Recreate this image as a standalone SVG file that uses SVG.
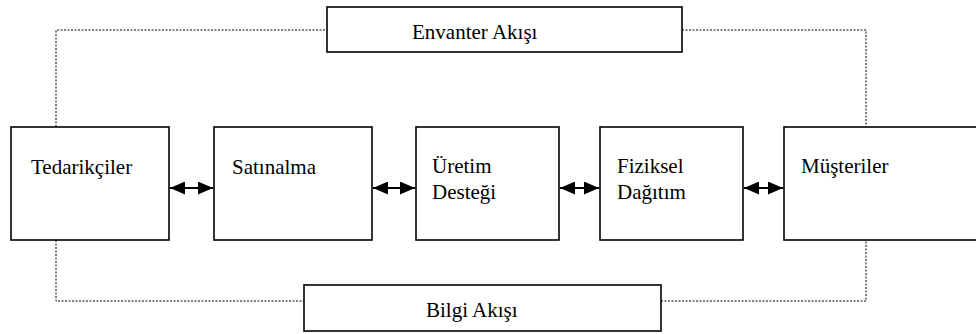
<svg xmlns="http://www.w3.org/2000/svg" width="976" height="334" viewBox="0 0 976 334">
<defs>
<style>
.box{fill:#fff;stroke:#000;stroke-width:1.6}
.t{font-family:"Liberation Serif","Times New Roman",Tinos,"DejaVu Serif",serif;font-size:21px;fill:#000}
.dot{fill:none;stroke:#000;stroke-width:1;stroke-dasharray:2,1.5}
.arr{stroke:#000;stroke-width:2;marker-start:url(#ah);marker-end:url(#ah)}
</style>
<marker id="ah" viewBox="0 0 15 13" refX="15" refY="6.5" markerWidth="15" markerHeight="13" markerUnits="userSpaceOnUse" preserveAspectRatio="none" orient="auto-start-reverse">
<path d="M0,0 L15,6.5 L0,13 Z" fill="#000"/>
</marker>
</defs>
<g id="connectors">
<path class="dot" d="M56,127 V30 H327"/>
<path class="dot" d="M682,30 H866 V127"/>
<path class="dot" d="M56,240 V301 H304"/>
<path class="dot" d="M661,301 H866 V240"/>
<line class="arr" x1="170" y1="188" x2="213" y2="188"/>
<line class="arr" x1="373" y1="188" x2="415" y2="188"/>
<line class="arr" x1="560" y1="188" x2="599" y2="188"/>
<line class="arr" x1="744" y1="188" x2="783" y2="188"/>
</g>
<g id="envanter">
<rect class="box" x="327" y="7" width="355" height="45"/>
<text class="t" x="412" y="39" font-family="Liberation Serif, serif">Envanter Akışı</text>
</g>
<g id="tedarikciler">
<rect class="box" x="11" y="127" width="158" height="113"/>
<text class="t" x="31" y="174" font-family="Liberation Serif, serif">Tedarikçiler</text>
</g>
<g id="satinalma">
<rect class="box" x="214" y="127" width="158" height="113"/>
<text class="t" x="232" y="174" font-family="Liberation Serif, serif">Satınalma</text>
</g>
<g id="uretim">
<rect class="box" x="416" y="127" width="143" height="113"/>
<text class="t" x="432" y="173" font-family="Liberation Serif, serif">Üretim</text>
<text class="t" x="432" y="199" font-family="Liberation Serif, serif">Desteği</text>
</g>
<g id="fiziksel">
<rect class="box" x="600" y="127" width="143" height="113"/>
<text class="t" x="617" y="173" font-family="Liberation Serif, serif">Fiziksel</text>
<text class="t" x="617" y="199" font-family="Liberation Serif, serif">Dağıtım</text>
</g>
<g id="musteriler">
<rect class="box" x="784" y="127" width="200" height="113"/>
<text class="t" x="801" y="173" font-family="Liberation Serif, serif">Müşteriler</text>
</g>
<g id="bilgi">
<rect class="box" x="304" y="285" width="357" height="46"/>
<text class="t" x="426" y="317" font-family="Liberation Serif, serif">Bilgi Akışı</text>
</g>
</svg>
